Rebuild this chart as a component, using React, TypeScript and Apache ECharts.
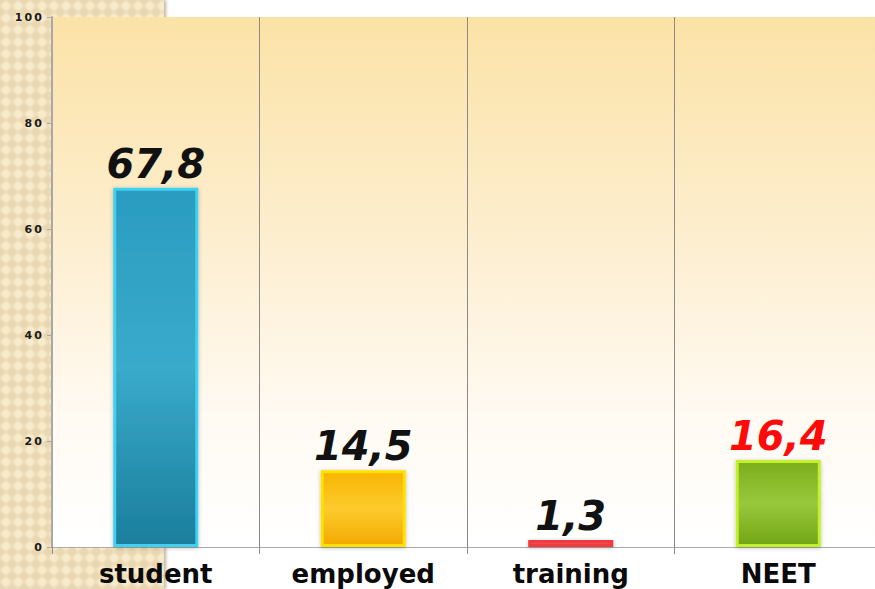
import React, { useEffect, useRef } from "react";
import * as echarts from "echarts";

const categories = ["student", "employed", "training", "NEET"];
const values = [67.8, 14.5, 1.3, 16.4];
const yTicks = [0, 20, 40, 60, 80, 100];

const barStyles = [
  { top: "#2A9CC0", mid: "#3AAACB", bottom: "#1A7E9C", border: "#3FD0F2", label: "#111111" },
  { top: "#F7B400", mid: "#FDCB2E", bottom: "#F2A900", border: "#FFE100", label: "#111111" },
  { top: "#E81C24", mid: "#F04950", bottom: "#E01A22", border: "#F23A3F", label: "#111111" },
  { top: "#7BAE1C", mid: "#98C83C", bottom: "#72A516", border: "#C2F02A", label: "#FF0A0A" },
];

export default function App() {
  const ref = useRef<HTMLDivElement>(null);
  useEffect(() => {
    document.body.style.margin = "0";
    const chart = echarts.init(ref.current!, null, { renderer: "svg" });
    chart.setOption({
      animation: false,
      backgroundColor: "transparent",
      grid: {
        left: 52,
        top: 17,
        width: 830,
        bottom: 42,
        show: true,
        borderWidth: 0,
        backgroundColor: new echarts.graphic.LinearGradient(0, 0, 0, 1, [
          { offset: 0, color: "#FBE2A6" },
          { offset: 0.45, color: "#FDEFD2" },
          { offset: 0.75, color: "#FFFAF2" },
          { offset: 1, color: "#FFFFFF" },
        ]),
      },
      xAxis: {
        type: "category",
        data: categories,
        axisLine: { show: true, lineStyle: { color: "#ABABAB", width: 1 } },
        axisTick: { show: true, length: 7, lineStyle: { color: "#8A8A8A" } },
        splitLine: { show: true, lineStyle: { color: "#8A8A8A", width: 1 } },
        axisLabel: {
          color: "#0A0A0A",
          fontFamily: "DejaVu Sans",
          fontWeight: "bold",
          fontSize: 26,
          lineHeight: 28,
          margin: 13,
        },
      },
      yAxis: {
        type: "value",
        min: 0,
        max: 100,
        interval: 20,
        axisLine: { show: true, lineStyle: { color: "#A8A8A8", width: 2 } },
        axisTick: { show: true, length: 5, lineStyle: { color: "#A8A8A8" } },
        splitLine: { show: false },
        axisLabel: {
          color: "#1A1A1A",
          fontFamily: "DejaVu Sans",
          fontWeight: "bold",
          fontSize: 11,
          margin: 10,
          formatter: (v: number) => (yTicks.includes(v) ? String(v).split("").join("\u2009") : ""),
        },
      },
      series: [
        {
          type: "bar",
          barWidth: "41%",
          data: values.map((v, i) => ({
            value: v,
            itemStyle: {
              color: new echarts.graphic.LinearGradient(0, 0, 0, 1, [
                { offset: 0, color: barStyles[i].top },
                { offset: 0.5, color: barStyles[i].mid },
                { offset: 1, color: barStyles[i].bottom },
              ]),
              borderColor: barStyles[i].border,
              borderWidth: 3,
              shadowColor: "rgba(0,0,0,0.25)",
              shadowBlur: 4,
              shadowOffsetY: 1,
            },
            label: { color: barStyles[i].label },
          })),
          label: {
            show: true,
            position: "top",
            distance: 4,
            fontFamily: "DejaVu Sans",
            fontWeight: "bold",
            fontStyle: "italic",
            fontSize: 40,
            formatter: (p: any) => String(p.value).replace(".", ","),
          },
        },
      ],
    });
    return () => chart.dispose();
  }, []);

  return (
    <div style={{ position: "fixed", left: 0, top: 0, width: 875, height: 589, background: "#FFFFFF", overflow: "hidden" }}>
      <div
        style={{
          position: "absolute",
          left: 0,
          top: 0,
          width: 164,
          height: 589,
          backgroundColor: "#EFDEB9",
          backgroundImage:
            "radial-gradient(circle, rgba(248,236,208,0.9) 3px, rgba(248,236,208,0) 5px), radial-gradient(circle, rgba(226,208,168,0.5) 3px, rgba(226,208,168,0) 5px)",
          backgroundSize: "12px 12px, 12px 12px",
          backgroundPosition: "0 0, 6px 6px",
          boxShadow: "2px 0 3px rgba(150,130,90,0.6)",
        }}
      />
      <div ref={ref} style={{ position: "absolute", left: 0, top: 0, width: 884, height: 589 }} />
    </div>
  );
}
